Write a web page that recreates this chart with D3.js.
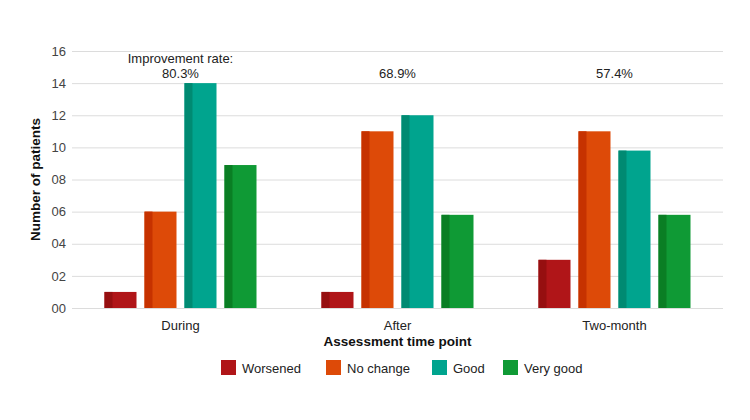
<!DOCTYPE html>
<html><head><meta charset="utf-8">
<script src="https://cdn.jsdelivr.net/npm/d3@7"></script>
<style>body{margin:0;background:#fff;}svg{display:block;font-family:"Liberation Sans",Arial,sans-serif;}</style>
</head><body><svg id="c" width="750" height="420"></svg>
<script>
const categories = ["During", "After", "Two-month"];
const seriesNames = ["Worsened", "No change", "Good", "Very good"];
const worsened = [1, 1, 3];
const noChange = [6, 11, 11];
const good = [14, 12, 9.8];
const veryGood = [8.9, 5.8, 5.8];
const improvementRates = ["80.3%", "68.9%", "57.4%"];
const yTicks = [0, 2, 4, 6, 8, 10, 12, 14, 16];
const colors = ["#B01518", "#DD4A08", "#00A48E", "#0F9A35"];
const darkColors = ["#960F10", "#C63200", "#008A72", "#0A7E24"];

const series = [worsened, noChange, good, veryGood];
const svg = d3.select("#c");
const m = {l: 72, r: 27, t: 51, b: 112};
const W = 750, H = 420;
const x0 = d3.scaleBand().domain(categories).range([m.l, W - m.r]);
const y = d3.scaleLinear().domain([0, 16]).range([H - m.b, m.t]);
const groupW = 152;
const x1 = d3.scaleBand().domain(seriesNames).range([0, groupW]).paddingInner(0.2).paddingOuter(0);

// grid
const yAxis = d3.axisLeft(y).tickValues(yTicks).tickSize(-(W - m.l - m.r)).tickFormat(d => String(d).padStart(2, "0")).tickPadding(6);
const ga = svg.append("g").attr("transform", `translate(${m.l},0)`).call(yAxis);
ga.select(".domain").remove();
ga.selectAll(".tick line").attr("stroke", "#dcdcdc").attr("stroke-width", 1);
ga.selectAll(".tick text").attr("fill", "#444").attr("font-size", 13).attr("font-family", "Liberation Sans, Arial, sans-serif");

// bars
categories.forEach((c, i) => {
  const gx = x0(c) + x0.bandwidth() / 2 - groupW / 2;
  seriesNames.forEach((s, j) => {
    const v = series[j][i];
    const bx = gx + x1(s);
    const bw = x1.bandwidth();
    svg.append("rect").attr("x", bx).attr("y", y(v)).attr("width", bw).attr("height", y(0) - y(v)).attr("fill", colors[j]);
    svg.append("rect").attr("x", bx).attr("y", y(v)).attr("width", 8).attr("height", y(0) - y(v)).attr("fill", darkColors[j]);
  });
  const cx = x0(c) + x0.bandwidth() / 2;
  svg.append("text").attr("x", cx).attr("y", 330).attr("text-anchor", "middle").attr("font-size", 13).attr("fill", "#222").text(c);
  svg.append("text").attr("x", cx).attr("y", 78).attr("text-anchor", "middle").attr("font-size", 13).attr("fill", "#222").text(improvementRates[i]);
  if (i === 0) svg.append("text").attr("x", cx).attr("y", 63).attr("text-anchor", "middle").attr("font-size", 13).attr("fill", "#222").text("Improvement rate:");
});

// axis titles
svg.append("text").attr("x", (m.l + W - m.r) / 2).attr("y", 346).attr("text-anchor", "middle").attr("font-size", 13.5).attr("font-weight", "bold").attr("fill", "#111").text("Assessment time point");
svg.append("text").attr("transform", `translate(40,${(m.t + H - m.b) / 2}) rotate(-90)`).attr("text-anchor", "middle").attr("font-size", 13.5).attr("font-weight", "bold").attr("fill", "#111").text("Number of patients");

// legend
const legX = [221, 326, 432, 503];
seriesNames.forEach((s, j) => {
  svg.append("rect").attr("x", legX[j]).attr("y", 360).attr("width", 15).attr("height", 15).attr("fill", colors[j]);
  svg.append("text").attr("x", legX[j] + 21).attr("y", 373).attr("font-size", 13).attr("fill", "#222").text(s);
});
</script></body></html>
